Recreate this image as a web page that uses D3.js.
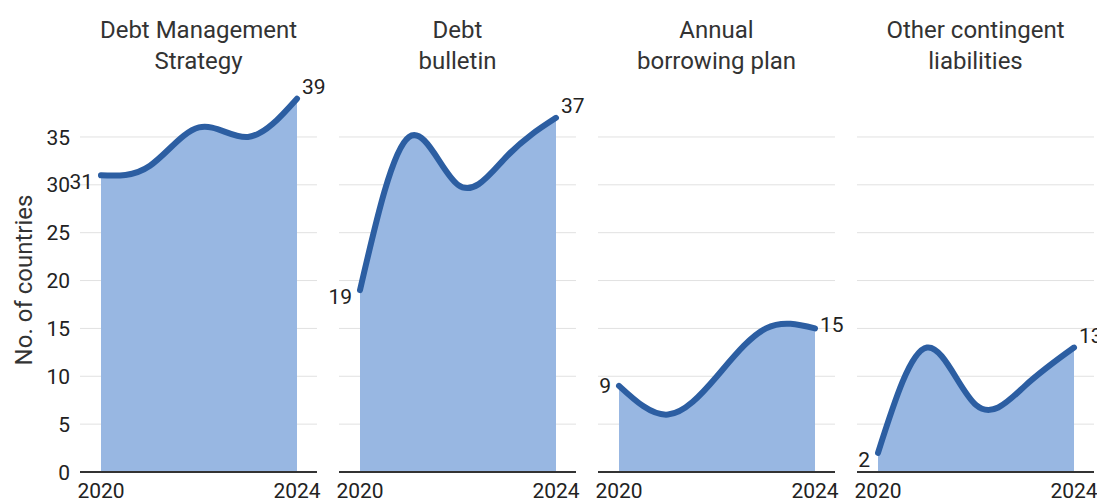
<!DOCTYPE html>
<html>
<head>
<meta charset="utf-8">
<script src="https://cdn.jsdelivr.net/npm/d3@7"></script>
<style>
  html, body { margin: 0; padding: 0; background: #fff; }
  svg { display: block; font-family: Roboto, "Noto Sans", sans-serif; }
</style>
</head>
<body>
<svg id="chart" width="1097" height="502"></svg>
<script>
// Years on the x axis of every panel
const years = [2020, 2021, 2022, 2023, 2024];
const yearTicks = [2020, 2024];

// Panel titles (two lines each)
const panelTitles = [
  ["Debt Management", "Strategy"],
  ["Debt", "bulletin"],
  ["Annual", "borrowing plan"],
  ["Other contingent", "liabilities"]
];

// Number of countries publishing each document, per year
const debtStrategy = [31, 32, 36, 35, 39];
const debtBulletin = [19, 35, 30, 33, 37];
const borrowingPlan = [9, 6, 10, 15, 15];
const contingentLiabilities = [2, 13, 7, 9, 13];

const yTicks = [0, 5, 10, 15, 20, 25, 30, 35];
const yTitle = "No. of countries";

const seriesList = [debtStrategy, debtBulletin, borrowingPlan, contingentLiabilities];

const svg = d3.select("#chart");

const lineColor = "#2c5ea2";
const areaColor = "#98b7e2";
const textColor = "#222";
const numSize = 21;

const panel = d3.scaleBand()
  .domain(d3.range(seriesList.length))
  .range([80, 1094])
  .paddingInner(0.085)
  .paddingOuter(0);

const y = d3.scaleLinear().domain([0, 40]).range([472, 89.1]);

// y axis title
svg.append("text")
  .attr("transform", `translate(32,${280}) rotate(-90)`)
  .attr("text-anchor", "middle")
  .attr("font-size", 24)
  .attr("fill", "#333")
  .text(yTitle);

// y tick labels (left of first panel only)
svg.append("g").selectAll("text")
  .data(yTicks)
  .join("text")
  .attr("x", 70)
  .attr("y", d => y(d))
  .attr("dy", "0.36em")
  .attr("text-anchor", "end")
  .attr("font-size", numSize)
  .attr("fill", textColor)
  .text(d => d);

seriesList.forEach((values, i) => {
  const x0 = panel(i);
  const bw = panel.bandwidth();
  const x = d3.scaleLinear().domain([2020, 2024]).range([x0 + 21, x0 + bw - 20]);
  const g = svg.append("g");

  // title
  const t = g.append("text")
    .attr("x", x0 + bw / 2)
    .attr("y", 38)
    .attr("text-anchor", "middle")
    .attr("font-size", 24)
    .attr("fill", "#333");
  panelTitles[i].forEach((line, k) => {
    t.append("tspan").attr("x", x0 + bw / 2).attr("dy", k === 0 ? 0 : 31).text(line);
  });

  // gridlines
  g.append("g").selectAll("line")
    .data(yTicks.filter(d => d > 0))
    .join("line")
    .attr("x1", x0).attr("x2", x0 + bw)
    .attr("y1", d => y(d)).attr("y2", d => y(d))
    .attr("stroke", "#e1e1e1")
    .attr("stroke-width", 1);

  const pts = years.map((yr, k) => [yr, values[k]]);

  const area = d3.area()
    .x(d => x(d[0]))
    .y0(y(0))
    .y1(d => y(d[1]))
    .curve(d3.curveNatural);

  const line = d3.line()
    .x(d => x(d[0]))
    .y(d => y(d[1]))
    .curve(d3.curveNatural);

  g.append("path")
    .attr("d", area(pts))
    .attr("fill", areaColor);

  // baseline
  g.append("line")
    .attr("x1", x0).attr("x2", x0 + bw)
    .attr("y1", y(0)).attr("y2", y(0))
    .attr("stroke", "#333")
    .attr("stroke-width", 2);

  g.append("path")
    .attr("d", line(pts))
    .attr("fill", "none")
    .attr("stroke", lineColor)
    .attr("stroke-width", 6)
    .attr("stroke-linecap", "round")
    .attr("stroke-linejoin", "round");

  // first and last value labels
  const first = values[0], last = values[values.length - 1];
  const rising = values[1] > first;
  g.append("text")
    .attr("x", x(years[0]) - 8)
    .attr("y", y(first) + (rising ? 14 : 7))
    .attr("text-anchor", "end")
    .attr("font-size", numSize)
    .attr("fill", textColor)
    .text(first);

  const endRise = last - values[values.length - 2];
  g.append("text")
    .attr("x", x(years[years.length - 1]) + 5)
    .attr("y", y(last) + (endRise > 3 ? -5 : 4))
    .attr("text-anchor", "start")
    .attr("font-size", numSize)
    .attr("fill", textColor)
    .text(last);

  // x tick labels
  g.append("g").selectAll("text")
    .data(yearTicks)
    .join("text")
    .attr("x", d => x(d))
    .attr("y", 498)
    .attr("text-anchor", "middle")
    .attr("font-size", numSize)
    .attr("fill", textColor)
    .text(d => d);
});
</script>
</body>
</html>
